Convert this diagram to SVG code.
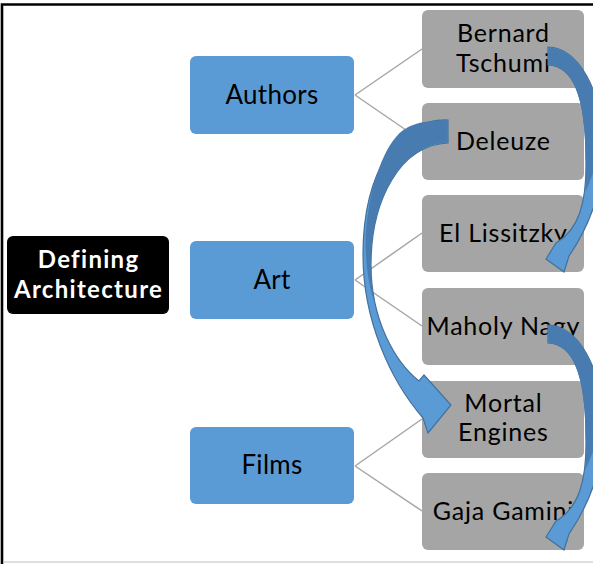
<svg xmlns="http://www.w3.org/2000/svg" width="593" height="564" viewBox="0 0 593 564">
<style>
.blue{fill:#5b9bd5;}
.gray{fill:#a5a5a5;}
.t{font-family:Lato,"Liberation Sans",sans-serif;fill:#000;text-anchor:middle;}
.tb{font-size:26px;letter-spacing:0.3px;}
.tg{font-size:25px;letter-spacing:0.8px;}
.tw{font-family:Lato,"Liberation Sans",sans-serif;font-weight:bold;font-size:24px;letter-spacing:1.3px;fill:#fff;text-anchor:middle;}
.ln{stroke:#a6a6a6;stroke-width:1.5;fill:none;}
.arL{fill:#5b9bd5;stroke:#41719c;stroke-width:1.2;}
.arD{fill:#487cb0;stroke:none;}
</style>
<rect x="0" y="0" width="593" height="564" fill="#fff"/>
<path d="M2,564 L2,4.5 L593,4.5" fill="none" stroke="#000" stroke-width="2.6"/>
<path d="M3.5,562 L593,562" fill="none" stroke="#d4d4d4" stroke-width="1.5"/>

<g id="connectors">
<path class="ln" d="M355,95 L422,49 M355,95 L422,141"/>
<path class="ln" d="M355,280 L422,233 M355,280 L422,326"/>
<path class="ln" d="M355,466 L422,419 M355,466 L422,511"/>
</g>

<g id="root"><rect x="7" y="236" width="162" height="78" rx="6" fill="#000"/>
<text class="tw" x="88.6" y="268">Defining</text><text class="tw" x="88.6" y="298">Architecture</text></g>

<g id="authors"><rect class="blue" x="190" y="56" width="164" height="78" rx="6"/><text class="t tb" x="272" y="104">Authors</text></g>
<g id="art"><rect class="blue" x="190" y="241" width="164" height="78" rx="6"/><text class="t tb" x="272" y="289">Art</text></g>
<g id="films"><rect class="blue" x="190" y="427" width="164" height="77" rx="6"/><text class="t tb" x="272" y="474">Films</text></g>

<g id="bernard"><rect class="gray" x="422" y="10" width="162" height="78" rx="6"/><text class="t tg" x="503.4" y="42">Bernard</text><text class="t tg" x="503.4" y="71.5">Tschumi</text></g>
<g id="deleuze"><rect class="gray" x="422" y="103" width="162" height="77" rx="6"/><text class="t tg" x="503.4" y="150">Deleuze</text></g>
<g id="lissitzky"><rect class="gray" x="422" y="195" width="162" height="77" rx="6"/><text class="t tg" x="503.4" y="242">El Lissitzky</text></g>
<g id="nagy"><rect class="gray" x="422" y="288" width="162" height="77" rx="6"/><text class="t tg" x="503.4" y="335">Maholy Nagy</text></g>
<g id="mortal"><rect class="gray" x="422" y="381" width="162" height="77" rx="6"/><text class="t tg" x="503.4" y="411.5">Mortal</text><text class="t tg" x="503.4" y="441">Engines</text></g>
<g id="gaja"><rect class="gray" x="422" y="473" width="162" height="77" rx="6"/><text class="t tg" x="503.4" y="520">Gaja Gamini</text></g>

<defs>
<g id="rarrow">
<path class="arL" d="M548,47 C578,47 603,90 603,150 C603,190 590,225 569,256 L564,272 L546,259 L556,243 C578,230 587,205 586,158 C586,105 576,66 548,65 Z"/>
<path class="arD" d="M548.5,47.6 C578,47.6 602.4,90 602.4,150 L585.6,192 C586,178 586,168 585.5,158 C585.5,105 576,66.5 548.5,64.4 Z"/>
</g>
</defs>

<g id="arrow-tschumi-lissitzky"><use href="#rarrow"/></g>
<g id="arrow-nagy-gaja"><use href="#rarrow" transform="translate(0,278)"/></g>
<g id="arrow-deleuze-mortal">
<path class="arL" d="M448,120 C400,118 363,170 363,255 C363,320 390,380 423,418 L428,433 L451,405 L424,375 L419,381 C395,362 371,320 371,265 C371,200 400,145 448,143 Z"/>
<path class="arD" d="M447.4,120.6 C420,119.6 405,126 396,137 C380,155 366,200 365.6,245 C366,270 370,290 375,304 C372,290 371,278 371,265 C371,200 400,144.5 447.4,142.4 Z"/>
</g>
</svg>
